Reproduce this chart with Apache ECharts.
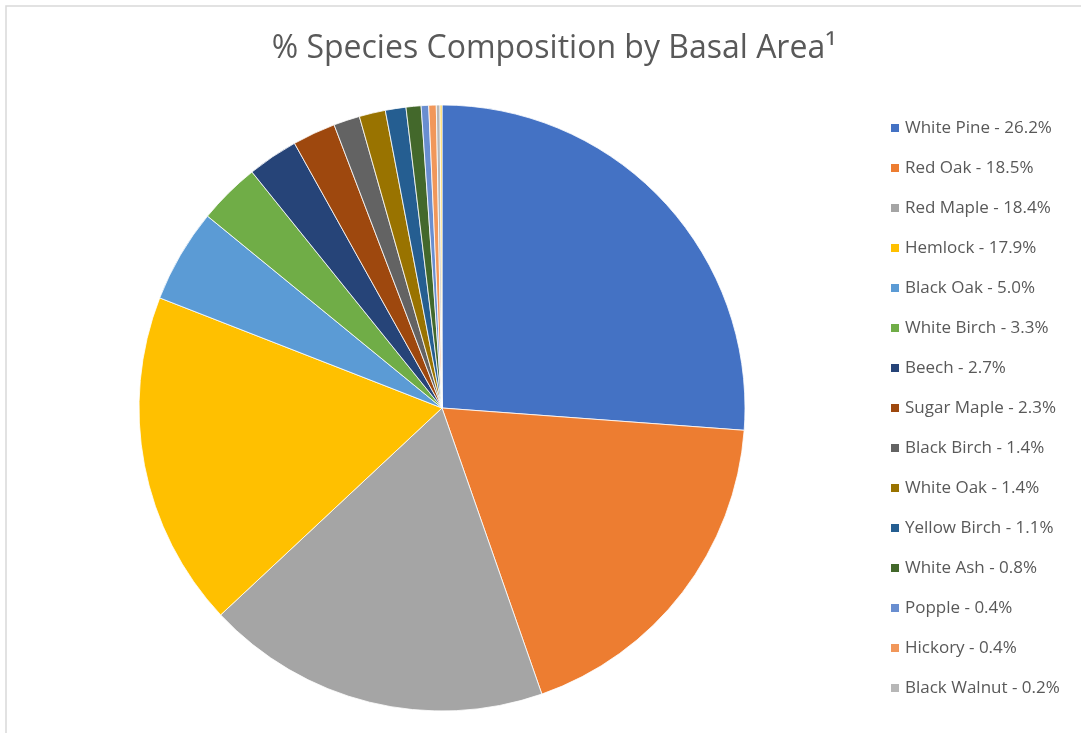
<!DOCTYPE html>
<html>
<head>
<meta charset="utf-8">
<script src="https://cdn.jsdelivr.net/npm/echarts@6/dist/echarts.min.js"></script>
<style>
html,body{margin:0;padding:0;background:#fff;}
#c{width:1081px;height:733px;}
</style>
</head>
<body>
<div id="c"></div>
<script>
const species = ["White Pine","Red Oak","Red Maple","Hemlock","Black Oak","White Birch","Beech","Sugar Maple","Black Birch","White Oak","Yellow Birch","White Ash","Popple","Hickory","Black Walnut","Other"];
const values = [26.2,18.5,18.4,17.9,5.0,3.3,2.7,2.3,1.4,1.4,1.1,0.8,0.4,0.4,0.2,0.1];
const legendSpecies = species.slice(0,15);
const colors = ["#4472C4","#ED7D31","#A5A5A5","#FFC000","#5B9BD5","#70AD47","#264478","#9E480E","#636363","#997300","#255E91","#43682B","#698ED0","#F1975A","#B7B7B7","#FFCD33"];
const titleText = "% Species Composition by Basal Area¹";

const valueOf = {};
species.forEach((s,i)=>valueOf[s]=values[i]);

const chart = echarts.init(document.getElementById('c'));
chart.setOption({
  animation:false,
  color: colors,
  title:{
    text:titleText,
    top:28,
    left:549,
    textAlign:'center',
    textStyle:{fontFamily:'Open Sans',fontSize:32,fontWeight:'normal',color:'#595959'}
  },
  legend:{
    orient:'vertical',
    left:889,
    top:118,
    padding:0,
    icon:'rect',
    itemWidth:10,
    itemHeight:10,
    itemGap:20,
    data:legendSpecies,
    formatter:function(n){return n+' - '+valueOf[n].toFixed(1)+'%';},
    textStyle:{fontFamily:'Open Sans',fontSize:17,color:'#595959',lineHeight:20}
  },
  graphic:[{
    type:'rect',
    shape:{x:6,y:6,width:1200,height:900},
    style:{fill:'none',stroke:'#d9d9d9',lineWidth:1.5},
    silent:true
  }],
  series:[{
    type:'pie',
    center:[442,408],
    radius:303,
    startAngle:90,
    clockwise:true,
    label:{show:false},
    labelLine:{show:false},
    itemStyle:{borderColor:'#fff',borderWidth:0.8},
    data:species.map((s,i)=>({name:s,value:values[i]}))
  }]
});
</script>
</body>
</html>
